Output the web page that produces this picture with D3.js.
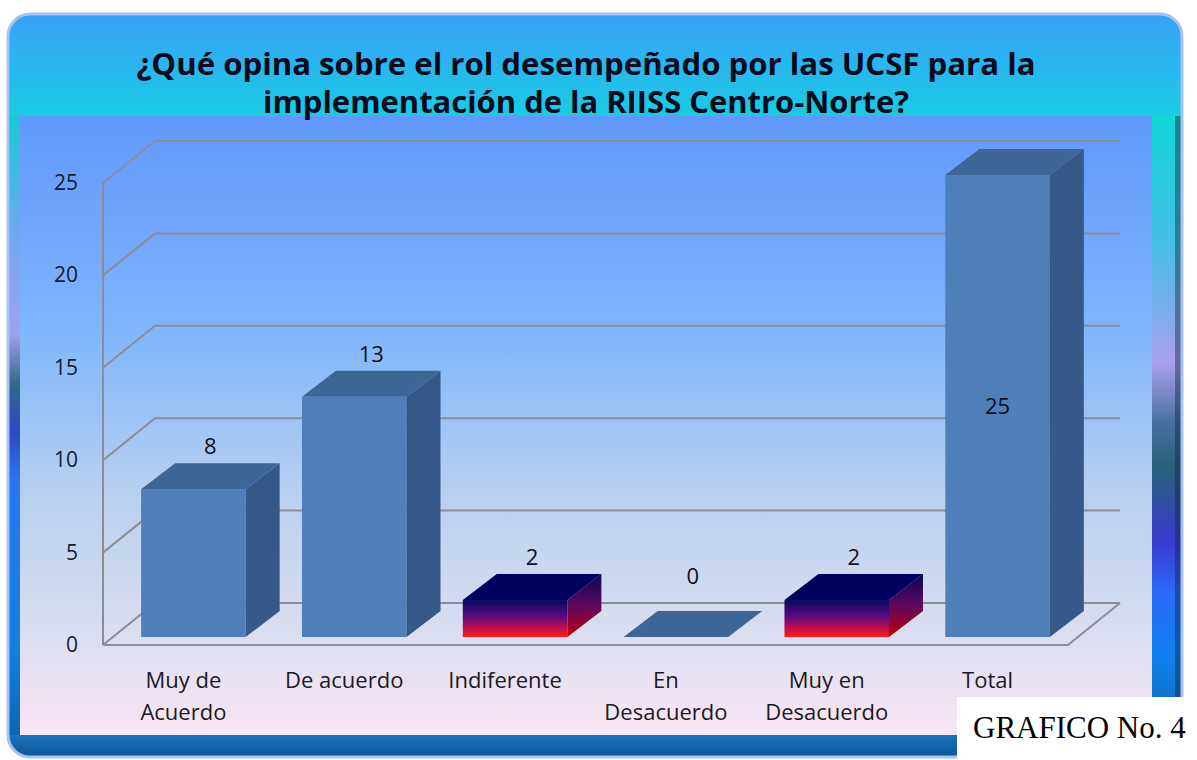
<!DOCTYPE html>
<html>
<head>
<meta charset="utf-8">
<script src="https://cdn.jsdelivr.net/npm/d3@7"></script>
<style>
  body { margin: 0; background: #fff; }
  svg { display: block; }
</style>
</head>
<body>
<svg id="chart" width="1197" height="760"></svg>
<script>
// data
var categories = ["Muy de Acuerdo", "De acuerdo", "Indiferente", "En Desacuerdo", "Muy en Desacuerdo", "Total"];
var categoryLines = [["Muy de", "Acuerdo"], ["De acuerdo"], ["Indiferente"], ["En", "Desacuerdo"], ["Muy en", "Desacuerdo"], ["Total"]];
var values = [8, 13, 2, 0, 2, 25];
var yTicks = [0, 5, 10, 15, 20, 25];
var highlighted = ["Indiferente", "Muy en Desacuerdo"];
var titleLines = ["¿Qué opina sobre el rol desempeñado por las UCSF para la", "implementación de la RIISS Centro-Norte?"];

var svg = d3.select("#chart");
var defs = svg.append("defs");
var font = "'Open Sans', Lato, sans-serif";

function vGrad(id, stops, y1, y2) {
    var g = defs.append("linearGradient").attr("id", id)
        .attr("gradientUnits", y1 == null ? "objectBoundingBox" : "userSpaceOnUse")
        .attr("x1", 0).attr("x2", 0)
        .attr("y1", y1 == null ? 0 : y1).attr("y2", y2 == null ? 1 : y2);
    stops.forEach(function(s) {
        g.append("stop").attr("offset", s[0]).attr("stop-color", s[1]);
    });
}
vGrad("topBand", [[0, "#3aa0f8"], [1, "#18cce2"]]);
vGrad("leftStrip", [[0, "#3aa0f8"], [0.14, "#18c8d8"], [0.30, "#70a8f0"], [0.43, "#a0a0f0"], [0.50, "#306888"],
    [0.56, "#2e48c0"], [0.63, "#2878f0"], [0.85, "#1480e0"], [1, "#0c60a8"]], 14, 757);
vGrad("rightStrip", [[0, "#3aa0f8"], [0.13, "#10d8d8"], [0.30, "#40c0e8"], [0.47, "#a8a0f0"], [0.55, "#4870a0"],
    [0.61, "#286078"], [0.71, "#3a3ad0"], [0.78, "#2a6af8"], [0.86, "#1080f0"], [1, "#0c60a8"]], 14, 757);
vGrad("bottomBand", [[0, "#1a74c0"], [1, "#0c5696"]]);
vGrad("plotBg", [[0, "#6098fc"], [0.35, "#80b6fc"], [0.6, "#b6cff0"], [0.8, "#d4dcf0"], [1, "#fae6f4"]]);
vGrad("hiFront", [[0, "#08085e"], [0.45, "#5a0a80"], [0.85, "#e0103a"], [1, "#ff1a10"]]);
vGrad("hiSide", [[0, "#080850"], [0.5, "#600860"], [1, "#c00000"]]);

// frame
defs.append("clipPath").attr("id", "frameClip")
    .append("rect").attr("x", 8).attr("y", 14).attr("width", 1174).attr("height", 743).attr("rx", 22);
var frame = svg.append("g").attr("clip-path", "url(#frameClip)");
frame.append("rect").attr("x", 8).attr("y", 14).attr("width", 1174).attr("height", 743).attr("fill", "#1070c0");
frame.append("rect").attr("x", 8).attr("y", 14).attr("width", 14).attr("height", 743).attr("fill", "url(#leftStrip)");
frame.append("rect").attr("x", 1150).attr("y", 14).attr("width", 32).attr("height", 743).attr("fill", "url(#rightStrip)");
frame.append("rect").attr("x", 1175).attr("y", 14).attr("width", 7).attr("height", 743).attr("fill", "#102840").attr("opacity", 0.45);
frame.append("rect").attr("x", 8).attr("y", 14).attr("width", 1174).attr("height", 102).attr("fill", "url(#topBand)");
frame.append("rect").attr("x", 8).attr("y", 735).attr("width", 1174).attr("height", 22).attr("fill", "url(#bottomBand)");
frame.append("rect").attr("x", 20).attr("y", 116).attr("width", 1132).attr("height", 619).attr("fill", "url(#plotBg)");
svg.append("rect").attr("x", 8).attr("y", 14).attr("width", 1174).attr("height", 743).attr("rx", 22)
    .attr("fill", "none").attr("stroke", "#a8c2ee").attr("stroke-width", 3);

// title
var titleWidths = [899, 646];
svg.append("g").selectAll("text").data(titleLines).enter().append("text")
    .attr("x", 586).attr("y", function(d, i) { return 75 + i * 38; })
    .attr("text-anchor", "middle")
    .attr("font-family", font).attr("font-weight", "bold")
    .attr("font-size", 31).attr("fill", "#0a0a1e")
    .attr("textLength", function(d, i) { return titleWidths[i]; })
    .attr("lengthAdjust", "spacingAndGlyphs")
    .text(function(d) { return d; });

// scales
var x = d3.scaleBand().domain(categories).range([103, 1068]).paddingInner(0.35).paddingOuter(0.175);
var y = d3.scaleLinear().domain([0, 25]).range([645, 183]);
var wall = { dx: 52, dy: -42 };
var front = { dx: 10, dy: -8 };
var depth = { dx: 34, dy: -26 };

// gridlines (side wall + back wall)
var grid = svg.append("g").attr("fill", "none").attr("stroke", "#8c8c96").attr("stroke-width", 2);
grid.selectAll("path").data(yTicks).enter().append("path")
    .attr("d", function(t) {
        return "M" + x.range()[0] + "," + y(t) +
            "L" + (x.range()[0] + wall.dx) + "," + (y(t) + wall.dy) +
            "L" + (x.range()[1] + wall.dx) + "," + (y(t) + wall.dy);
    });
grid.append("path").attr("d", "M" + x.range()[0] + "," + y(25) + "L" + x.range()[0] + "," + y(0));

// y tick labels
svg.append("g").selectAll("text").data(yTicks).enter().append("text")
    .attr("x", 78).attr("y", function(t) { return y(t) + 7; })
    .attr("text-anchor", "end")
    .attr("font-family", font).attr("font-size", 21).attr("fill", "#1a1a2a")
    .text(function(t) { return t; });

// bars
var bars = svg.append("g").selectAll("g").data(categories).enter().append("g");
function pts(a) { return a.map(function(p) { return p.join(","); }).join(" "); }
bars.each(function(c, i) {
    var g = d3.select(this);
    var v = values[i];
    var hi = highlighted.indexOf(c) >= 0;
    var x0 = x(c) + front.dx, x1 = x0 + x.bandwidth();
    var yb = y(0) + front.dy, yt = y(v) + front.dy;
    if (v > 0) {
        g.append("rect").attr("x", x0).attr("y", yt).attr("width", x1 - x0).attr("height", yb - yt)
            .attr("fill", hi ? "url(#hiFront)" : "#4f7ebb");
        g.append("polygon").attr("points", pts([[x1, yt], [x1 + depth.dx, yt + depth.dy], [x1 + depth.dx, yb + depth.dy], [x1, yb]]))
            .attr("fill", hi ? "url(#hiSide)" : "#36598a");
    }
    g.append("polygon").attr("points", pts([[x0, yt], [x0 + depth.dx, yt + depth.dy], [x1 + depth.dx, yt + depth.dy], [x1, yt]]))
        .attr("fill", hi ? "#00005e" : "#3d6596");
});

// value labels
svg.append("g").selectAll("text").data(categories).enter().append("text")
    .attr("text-anchor", "middle")
    .attr("font-family", font).attr("font-size", 22).attr("fill", "#101018")
    .attr("x", function(c, i) {
        var cx = x(c) + front.dx + x.bandwidth() / 2;
        return values[i] === d3.max(values) ? cx : cx + depth.dx / 2;
    })
    .attr("y", function(c, i) {
        var v = values[i];
        if (v === d3.max(values)) return (y(v) + y(0)) / 2 + front.dy + 8;
        return y(Math.max(v, 1)) + front.dy + depth.dy - 9;
    })
    .text(function(c, i) { return values[i]; });

// floor front edge
svg.append("path")
    .attr("d", "M" + x.range()[0] + "," + y(0) + "L" + x.range()[1] + "," + y(0) +
        "L" + (x.range()[1] + wall.dx) + "," + (y(0) + wall.dy))
    .attr("fill", "none").attr("stroke", "#8c8c96").attr("stroke-width", 2);

// category labels
var cat = svg.append("g").selectAll("text").data(categories).enter().append("text")
    .attr("text-anchor", "middle")
    .attr("font-family", font).attr("font-size", 22).attr("fill", "#1a1a22")
    .attr("x", function(c) { return x(c) + x.bandwidth() / 2; })
    .attr("y", 688);
cat.selectAll("tspan").data(function(c, i) { return categoryLines[i]; }).enter().append("tspan")
    .attr("x", function() { var c = d3.select(this.parentNode).datum(); return x(c) + x.bandwidth() / 2; })
    .attr("dy", function(d, j) { return j === 0 ? 0 : 32; })
    .text(function(d) { return d; });

// caption box
svg.append("rect").attr("x", 957).attr("y", 697).attr("width", 240).attr("height", 63).attr("fill", "#fff");
svg.append("text").attr("x", 973).attr("y", 738)
    .attr("font-family", "'Liberation Serif', 'Times New Roman', serif").attr("font-size", 31).attr("fill", "#000")
    .text("GRAFICO No. 4");
</script>
</body>
</html>
